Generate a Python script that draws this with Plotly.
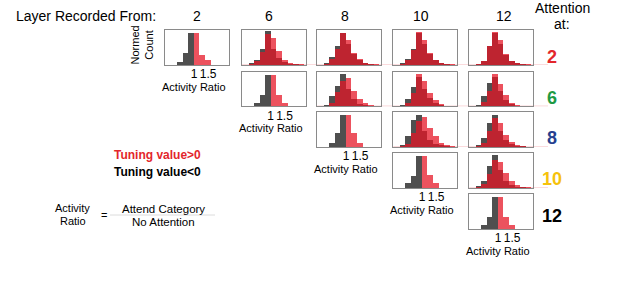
import plotly.graph_objects as go

# ---------------- data ----------------
BIN_CENTERS = [0.1, 0.3, 0.5, 0.7, 0.9, 1.1, 1.3, 1.5, 1.7, 1.9, 2.1]
LAYERS = [2, 6, 8, 10, 12]
TICK_VALS = [1, 1.5]
TICK_TEXT = ["1", "1.5"]
ROW_COLORS = ["#e3262b", "#1f9a44", "#263f8f", "#f6c20c", "#000000"]

# negative tuning (gray) / positive tuning (red); name = attention layer _ recorded layer
neg_2_2 = [0, 0, 0.09, 0.33, 0.91, 0, 0, 0, 0, 0, 0]
pos_2_2 = [0, 0, 0, 0, 0, 0.91, 0.28, 0.15, 0, 0, 0]
neg_2_6 = [0, 0.05, 0.15, 0.44, 0.97, 0.45, 0.2, 0.07, 0.02, 0.01, 0]
pos_2_6 = [0, 0.03, 0.1, 0.36, 0.88, 0.77, 0.39, 0.15, 0.06, 0.03, 0.01]
neg_2_8 = [0, 0.03, 0.21, 0.53, 0.92, 0.6, 0.31, 0.14, 0.05, 0.02, 0]
pos_2_8 = [0, 0.02, 0.16, 0.45, 0.9, 0.7, 0.34, 0.16, 0.06, 0.03, 0.01]
neg_2_10 = [0, 0.03, 0.16, 0.45, 0.9, 0.6, 0.3, 0.13, 0.05, 0.02, 0]
pos_2_10 = [0, 0.02, 0.13, 0.42, 0.93, 0.7, 0.33, 0.15, 0.05, 0.03, 0.01]
neg_2_12 = [0, 0.02, 0.1, 0.55, 0.92, 0.6, 0.28, 0.1, 0.04, 0.02, 0]
pos_2_12 = [0, 0.02, 0.12, 0.55, 0.93, 0.7, 0.3, 0.1, 0.05, 0.02, 0.01]

neg_6_6 = [0, 0, 0.12, 0.34, 0.92, 0, 0, 0, 0, 0, 0]
pos_6_6 = [0, 0, 0, 0, 0, 0.92, 0.34, 0.12, 0, 0, 0]
neg_6_8 = [0, 0.06, 0.3, 0.6, 0.94, 0.5, 0.22, 0.08, 0.03, 0.01, 0]
pos_6_8 = [0, 0.02, 0.12, 0.42, 0.75, 0.82, 0.45, 0.22, 0.1, 0.04, 0.01]
neg_6_10 = [0, 0.05, 0.22, 0.58, 0.85, 0.5, 0.25, 0.1, 0.04, 0.01, 0]
pos_6_10 = [0, 0.02, 0.12, 0.4, 0.94, 0.73, 0.4, 0.18, 0.07, 0.03, 0.01]
neg_6_12 = [0, 0.05, 0.3, 0.68, 0.85, 0.44, 0.2, 0.07, 0.02, 0.01, 0]
pos_6_12 = [0, 0.03, 0.15, 0.45, 0.94, 0.66, 0.35, 0.12, 0.04, 0.02, 0]

neg_8_8 = [0, 0, 0.12, 0.39, 0.92, 0, 0, 0, 0, 0, 0]
pos_8_8 = [0, 0, 0, 0, 0, 0.92, 0.39, 0.12, 0, 0, 0]
neg_8_10 = [0, 0.05, 0.3, 0.78, 0.92, 0.45, 0.2, 0.08, 0.03, 0.01, 0]
pos_8_10 = [0, 0.02, 0.08, 0.4, 0.75, 0.85, 0.55, 0.3, 0.12, 0.05, 0.02]
neg_8_12 = [0, 0.04, 0.25, 0.68, 0.92, 0.45, 0.2, 0.07, 0.02, 0.01, 0]
pos_8_12 = [0, 0.02, 0.12, 0.45, 0.82, 0.68, 0.35, 0.15, 0.05, 0.02, 0]

neg_10_10 = [0, 0, 0.13, 0.34, 0.92, 0, 0, 0, 0, 0, 0]
pos_10_10 = [0, 0, 0, 0, 0, 0.92, 0.37, 0.13, 0, 0, 0]
neg_10_12 = [0, 0.04, 0.2, 0.62, 0.95, 0.5, 0.2, 0.07, 0.02, 0.01, 0]
pos_10_12 = [0, 0.02, 0.1, 0.4, 0.8, 0.75, 0.42, 0.2, 0.08, 0.03, 0.01]

neg_12_12 = [0, 0, 0.12, 0.34, 0.91, 0, 0, 0, 0, 0, 0]
pos_12_12 = [0, 0, 0, 0, 0, 0.91, 0.34, 0.12, 0, 0, 0]

_g = globals()
PANELS = {}
for a in LAYERS:
    for r in LAYERS:
        if r >= a:
            PANELS[(a, r)] = (_g[f"neg_{a}_{r}"], _g[f"pos_{a}_{r}"])

# ---------------- layout geometry ----------------
W, H = 617, 297
COL_LEFT = [165.3, 241.7, 317.3, 393.3, 469.3]
ROW_TOP = [30.3, 71.7, 112.3, 153.3, 194.3]
PW, PH = 64.0, 34.7
FONT = "Liberation Sans, Arial, sans-serif"

def px(x):
    return x / W

def py(y):
    return 1 - y / H

fig = go.Figure()
layout_axes = {}
shapes = []
annotations = []
n = 0
for i, a in enumerate(LAYERS):
    for j, r in enumerate(LAYERS):
        if r < a:
            continue
        n += 1
        neg, pos = PANELS[(a, r)]
        xa = "x" if n == 1 else f"x{n}"
        ya = "y" if n == 1 else f"y{n}"
        fig.add_trace(go.Bar(x=BIN_CENTERS, y=neg, width=0.2, xaxis=xa, yaxis=ya,
                             marker=dict(color="#4f4f4f", line=dict(width=0)),
                             showlegend=False, hoverinfo="skip"))
        fig.add_trace(go.Bar(x=BIN_CENTERS, y=pos, width=0.2, xaxis=xa, yaxis=ya,
                             marker=dict(color="rgba(230,22,38,0.74)", line=dict(width=0)),
                             showlegend=False, hoverinfo="skip"))
        x0 = COL_LEFT[j]
        y0 = ROW_TOP[i]
        diag = (a == r)
        layout_axes["xaxis" if n == 1 else f"xaxis{n}"] = dict(
            domain=[px(x0), px(x0 + PW)], anchor=ya, range=[-0.036, 2.26],
            showline=True, mirror=True, linecolor="#8a8a8a", linewidth=1,
            showgrid=False, zeroline=False, ticks="", tickangle=0, automargin=False,
            ticklabelstandoff=-2,
            showticklabels=diag, tickvals=TICK_VALS, ticktext=TICK_TEXT,
            tickfont=dict(size=12, color="#000", family=FONT), fixedrange=True)
        layout_axes["yaxis" if n == 1 else f"yaxis{n}"] = dict(
            domain=[py(y0 + PH), py(y0)], anchor=xa, range=[0, 1.0],
            showline=True, mirror=True, linecolor="#8a8a8a", linewidth=1,
            showgrid=False, zeroline=False, ticks="", showticklabels=False,
            automargin=False, fixedrange=True)
        if diag:
            annotations.append(dict(xref="paper", yref="paper",
                                    x=px(x0 + PW / 2 - 3), y=py(y0 + PH + 22), text="Activity Ratio",
                                    showarrow=False, xanchor="center", yanchor="middle",
                                    font=dict(size=11, color="#000", family=FONT)))
    # faint tail line along row bottoms
    if a != 12:
        shapes.append(dict(type="line", xref="paper", yref="paper",
                           x0=px(COL_LEFT[i + 1]), x1=px(548),
                           y0=py(ROW_TOP[i] + PH - 0.5), y1=py(ROW_TOP[i] + PH - 0.5),
                           line=dict(color="rgba(235,90,100,0.22)", width=1), layer="below"))

def ann(x, y, text, size, color="#000", bold=False, angle=0, xanchor="center"):
    t = f"<b>{text}</b>" if bold else text
    annotations.append(dict(xref="paper", yref="paper", x=px(x), y=py(y), text=t,
                            showarrow=False, xanchor=xanchor,
                            yanchor="middle", textangle=angle,
                            font=dict(size=size, color=color, family=FONT)))

ann(86, 15.5, "Layer Recorded From:", 14)
for hx, lay in zip([197, 268.5, 345, 421, 504], LAYERS):
    ann(hx, 15.5, str(lay), 14)
ann(562, 8, "Attention", 14)
ann(562, 23.5, "at:", 14)
for ry, lay, col in zip([57.5, 98, 138.5, 178.5, 215.5], LAYERS, ROW_COLORS):
    ann(552, ry, str(lay), 18, color=col, bold=True)
ann(141.5, 45, "Normed<br>Count", 11, angle=-90)
ann(157.5, 155, "Tuning value>0", 12, color="#e3262b", bold=True)
ann(157.5, 171.5, "Tuning value<0", 12, color="#000", bold=True)
ann(72, 208.3, "Activity", 11)
ann(72.5, 220.5, "Ratio", 11)
ann(104, 214.5, "=", 11)
ann(163, 208.5, "Attend Category", 11.5)
ann(163, 221.5, "No Attention", 11.5)
shapes.append(dict(type="line", xref="paper", yref="paper", x0=px(110), x1=px(215),
                   y0=py(215), y1=py(215), line=dict(color="#dcdcdc", width=1)))

fig.update_layout(width=W, height=H, margin=dict(l=0, r=0, t=0, b=0, autoexpand=False),
                  paper_bgcolor="white", plot_bgcolor="white",
                  barmode="overlay", bargap=0, showlegend=False,
                  font=dict(family=FONT, color="#000"),
                  annotations=annotations, shapes=shapes, **layout_axes)
fig.write_html("out.html", config={"displayModeBar": False},
               post_script="document.body.style.margin='0';document.body.style.padding='0';document.body.style.overflow='hidden';")
